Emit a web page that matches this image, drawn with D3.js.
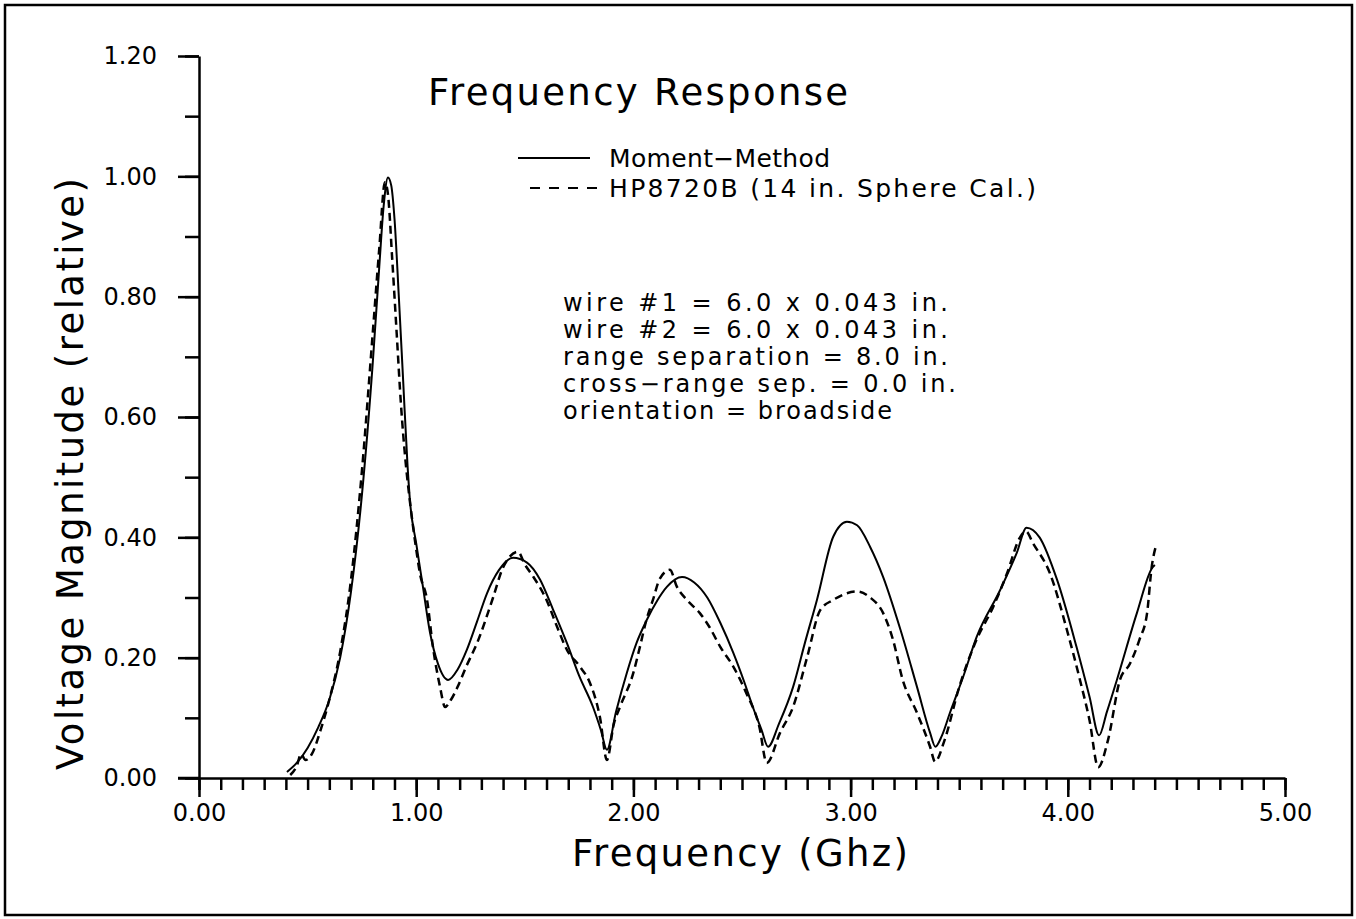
<!DOCTYPE html>
<html>
<head>
<meta charset="utf-8">
<script src="https://cdn.jsdelivr.net/npm/d3@7"></script>
<style>
  body { margin: 0; background: #fff; }
  svg { display: block; }
  text { font-family: "DejaVu Sans", sans-serif; fill: #000; }
</style>
</head>
<body>
<svg id="chart" width="1356" height="919"></svg>
<script>
// frequency (GHz), relative voltage magnitude
let momentMethod = [
  [0.405,0.010],[0.45,0.025],[0.50,0.050],[0.55,0.085],[0.60,0.130],[0.65,0.200],
  [0.70,0.310],[0.75,0.470],[0.80,0.690],[0.83,0.850],[0.85,0.950],[0.87,0.998],
  [0.885,0.985],[0.90,0.930],[0.92,0.800],[0.94,0.660],[0.96,0.520],[0.971,0.462],
  [1.00,0.390],[1.03,0.320],[1.064,0.241],[1.10,0.190],[1.147,0.163],[1.19,0.180],
  [1.233,0.213],[1.28,0.260],[1.326,0.307],[1.38,0.345],[1.446,0.366],[1.51,0.358],
  [1.57,0.330],[1.63,0.280],[1.694,0.224],[1.75,0.170],[1.814,0.118],[1.85,0.080],
  [1.878,0.047],[1.92,0.110],[1.97,0.175],[2.015,0.225],[2.062,0.263],[2.11,0.295],
  [2.155,0.318],[2.224,0.334],[2.28,0.325],[2.34,0.300],[2.40,0.258],[2.46,0.208],
  [2.51,0.160],[2.55,0.118],[2.59,0.080],[2.62,0.052],[2.67,0.090],[2.735,0.151],
  [2.79,0.225],[2.845,0.296],[2.92,0.401],[2.983,0.426],[3.03,0.420],[3.09,0.384],
  [3.15,0.334],[3.23,0.246],[3.306,0.151],[3.366,0.075],[3.39,0.052],[3.42,0.070],
  [3.457,0.108],[3.52,0.170],[3.58,0.234],[3.688,0.312],[3.765,0.374],[3.81,0.416],
  [3.87,0.400],[3.95,0.330],[4.04,0.218],[4.10,0.135],[4.144,0.071],[4.18,0.110],
  [4.226,0.163],[4.318,0.274],[4.39,0.350],[4.401,0.354]
];

let hp8720b = [
  [0.42,0.005],[0.45,0.020],[0.47,0.040],[0.49,0.030],[0.52,0.040],[0.56,0.080],
  [0.60,0.130],[0.65,0.210],[0.70,0.330],[0.75,0.510],[0.80,0.740],[0.83,0.880],
  [0.856,0.990],[0.87,0.970],[0.89,0.860],[0.91,0.740],[0.93,0.620],[0.95,0.530],
  [0.971,0.460],[1.00,0.380],[1.017,0.340],[1.05,0.296],[1.077,0.218],[1.11,0.151],
  [1.133,0.118],[1.16,0.130],[1.19,0.151],[1.23,0.185],[1.28,0.224],[1.354,0.300],
  [1.40,0.350],[1.469,0.376],[1.50,0.355],[1.54,0.334],[1.60,0.296],[1.65,0.250],
  [1.694,0.213],[1.754,0.185],[1.80,0.158],[1.846,0.101],[1.878,0.030],[1.91,0.090],
  [1.938,0.118],[2.00,0.175],[2.03,0.218],[2.06,0.263],[2.09,0.296],[2.12,0.330],
  [2.168,0.346],[2.20,0.318],[2.246,0.296],[2.306,0.274],[2.35,0.251],[2.40,0.218],
  [2.46,0.185],[2.52,0.141],[2.58,0.085],[2.614,0.025],[2.675,0.075],[2.735,0.118],
  [2.80,0.201],[2.86,0.279],[2.92,0.296],[2.983,0.307],[3.03,0.310],[3.09,0.300],
  [3.15,0.274],[3.195,0.230],[3.24,0.163],[3.306,0.108],[3.366,0.052],[3.389,0.027],
  [3.43,0.060],[3.50,0.151],[3.58,0.230],[3.656,0.284],[3.72,0.340],[3.78,0.400],
  [3.807,0.410],[3.84,0.390],[3.918,0.340],[3.996,0.246],[4.056,0.163],[4.10,0.096],
  [4.14,0.018],[4.185,0.063],[4.24,0.163],[4.286,0.190],[4.33,0.230],[4.365,0.274],
  [4.386,0.350],[4.406,0.386]
];

let xTicks = [0, 1, 2, 3, 4, 5];
let yTicks = [0, 0.2, 0.4, 0.6, 0.8, 1.0, 1.2];
let legendLabels = ["Moment\u2212Method", "HP8720B (14 in. Sphere Cal.)"];
let notes = [
  "wire #1 = 6.0 x 0.043 in.",
  "wire #2 = 6.0 x 0.043 in.",
  "range separation = 8.0 in.",
  "cross\u2212range sep. = 0.0 in.",
  "orientation = broadside"
];

let svg = d3.select("#chart");

svg.append("rect")
  .attr("x", 5).attr("y", 5)
  .attr("width", 1347).attr("height", 910)
  .attr("fill", "none").attr("stroke", "#000").attr("stroke-width", 2.5);

let x = d3.scaleLinear().domain([0, 5]).range([199, 1285]);
let y = d3.scaleLinear().domain([0, 1.2]).range([778, 56]);

// minor ticks
svg.append("g")
  .attr("transform", "translate(0,778)")
  .call(d3.axisBottom(x).ticks(50).tickValues(d3.range(0, 51).map(i => i / 10))
    .tickSize(12).tickFormat(""))
  .call(g => g.select(".domain").remove());
svg.append("g")
  .attr("transform", "translate(199,0)")
  .call(d3.axisLeft(y).tickValues(d3.range(0, 13).map(i => i / 10))
    .tickSize(14).tickFormat(""))
  .call(g => g.select(".domain").remove());

let xAxis = svg.append("g")
  .attr("transform", "translate(0,778)")
  .call(d3.axisBottom(x).tickValues(xTicks).tickSize(19).tickSizeOuter(0)
    .tickPadding(7).tickFormat(d3.format(".2f")));

let yAxis = svg.append("g")
  .attr("transform", "translate(199,0)")
  .call(d3.axisLeft(y).tickValues(yTicks).tickSize(21).tickSizeOuter(0)
    .tickPadding(21).tickFormat(d3.format(".2f")));

for (let g of [xAxis, yAxis]) {
  g.selectAll("line").attr("stroke", "#000").attr("stroke-width", 2.5);
  g.select(".domain").attr("stroke", "#000").attr("stroke-width", 2.5);
  g.selectAll("text").attr("font-size", 24).attr("font-family", "DejaVu Sans")
    .attr("fill", "#000");
}
xAxis.selectAll("line").attr("stroke-width", 2.5);
svg.selectAll("g line").attr("stroke", "#000").attr("stroke-width", 2.5);
// extend the x axis line under the 0.00 y tick
svg.append("line")
  .attr("x1", 178).attr("x2", 199).attr("y1", 778).attr("y2", 778)
  .attr("stroke", "#000").attr("stroke-width", 2.5);

// curves
let line = d3.line().x(d => x(d[0])).y(d => y(d[1])).curve(d3.curveMonotoneX);
svg.append("path").datum(momentMethod)
  .attr("d", line).attr("fill", "none")
  .attr("stroke", "#000").attr("stroke-width", 2);
svg.append("path").datum(hp8720b)
  .attr("d", line).attr("fill", "none")
  .attr("stroke", "#000").attr("stroke-width", 2.5)
  .attr("stroke-dasharray", "8,5");

// titles
svg.append("text")
  .attr("x", 428).attr("y", 105)
  .attr("font-size", 37).attr("textLength", 420).attr("lengthAdjust", "spacing")
  .text("Frequency Response");
svg.append("text")
  .attr("x", 572).attr("y", 866)
  .attr("font-size", 37).attr("textLength", 336).attr("lengthAdjust", "spacing")
  .text("Frequency (Ghz)");
svg.append("text")
  .attr("transform", "translate(83,474) rotate(-90)")
  .attr("x", -296).attr("y", 0)
  .attr("font-size", 37).attr("textLength", 592).attr("lengthAdjust", "spacing")
  .text("Voltage Magnitude (relative)");

// legend
svg.append("line")
  .attr("x1", 518).attr("x2", 590).attr("y1", 158).attr("y2", 158)
  .attr("stroke", "#000").attr("stroke-width", 2);
svg.append("line")
  .attr("x1", 530).attr("x2", 597).attr("y1", 188).attr("y2", 188)
  .attr("stroke", "#000").attr("stroke-width", 2).attr("stroke-dasharray", "10,9");
let legendLen = [221, 427];
legendLabels.forEach((t, i) => {
  svg.append("text")
    .attr("x", 609).attr("y", 167 + i * 30)
    .attr("font-size", 25).attr("textLength", legendLen[i]).attr("lengthAdjust", "spacing")
    .text(t);
});

// annotation
let noteLen = [385, 385, 385, 393, 329];
notes.forEach((t, i) => {
  svg.append("text")
    .attr("x", 563).attr("y", 311 + i * 27)
    .attr("font-size", 24).attr("textLength", noteLen[i]).attr("lengthAdjust", "spacing")
    .text(t);
});
</script>
</body>
</html>
